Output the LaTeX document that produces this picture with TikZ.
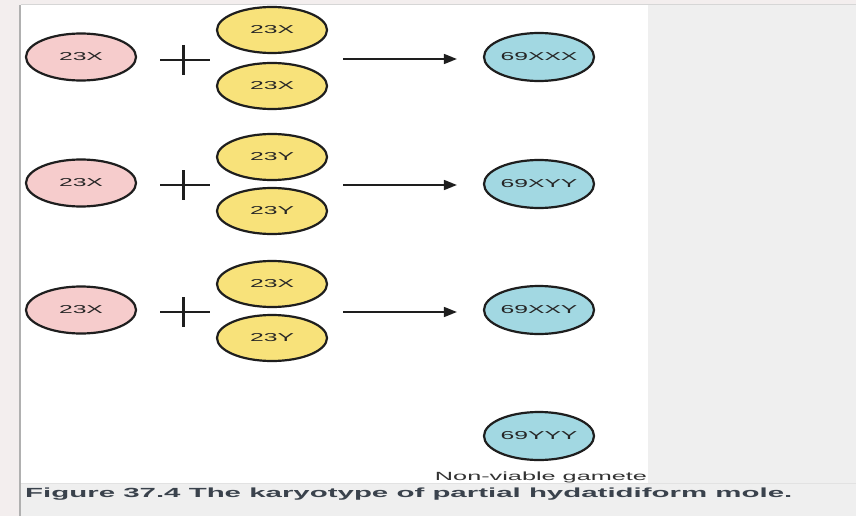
\documentclass[tikz,border=0pt]{standalone}
\usepackage{fontspec}
\setmainfont{Liberation Sans}
\usetikzlibrary{shapes.geometric,arrows.meta}
\definecolor{pinkc}{RGB}{246,204,204}
\definecolor{yelc}{RGB}{248,226,122}
\definecolor{bluec}{RGB}{162,216,226}
\definecolor{edgec}{RGB}{30,30,30}
\definecolor{panel}{RGB}{239,239,239}
\definecolor{capc}{RGB}{58,66,76}
\definecolor{marg}{RGB}{243,238,238}
\definecolor{sep}{RGB}{226,226,226}
\definecolor{topl}{RGB}{214,214,214}
\definecolor{leftl}{RGB}{176,176,176}
\tikzset{
  cell/.style={ellipse, draw=edgec, line width=2.2pt, minimum width=110pt, minimum height=47pt, inner sep=0pt, text=black!85},
  mother/.style={cell, fill=pinkc},
  father/.style={cell, fill=yelc, minimum height=46pt},
  zyg/.style={cell, fill=bluec, minimum height=48pt},
  arr/.style={line width=1.6pt, draw=edgec, -{Triangle[length=13pt,width=10pt]}},
  plusline/.style={draw=edgec, line width=1.6pt},
}
\newcommand{\lbl}[1]{\scalebox{2.15}[1]{\fontsize{11.5}{12}\selectfont #1}}
\begin{document}
\begin{tikzpicture}[x=1pt,y=-1pt]
\useasboundingbox (0,0) rectangle (856,516);
% backgrounds
\fill[marg] (0,0) rectangle (856,516);
\fill[white] (21,5) rectangle (648,483);
\fill[panel] (648,5) rectangle (856,516);
\fill[panel] (21,483) rectangle (856,516);
\draw[sep, line width=0.8pt] (21,483) -- (856,483);
\draw[topl, line width=1pt] (21,4.5) -- (856,4.5);
\draw[leftl, line width=2pt] (20,5) -- (20,516);
% row 1
\node[mother] (m1) at (81,57) {\lbl{23X}};
\node[father] (f1a) at (272,30) {\lbl{23X}};
\node[father] (f1b) at (272,86) {\lbl{23X}};
\node[zyg] (z1) at (539,57) {\lbl{69XXX}};
% row 2
\node[mother] (m2) at (81,183) {\lbl{23X}};
\node[father] (f2a) at (272,157) {\lbl{23Y}};
\node[father] (f2b) at (272,211) {\lbl{23Y}};
\node[zyg] (z2) at (539,184) {\lbl{69XYY}};
% row 3
\node[mother] (m3) at (81,310) {\lbl{23X}};
\node[father] (f3a) at (272,284) {\lbl{23X}};
\node[father] (f3b) at (272,338) {\lbl{23Y}};
\node[zyg] (z3) at (539,310) {\lbl{69XXY}};
% row 4
\node[zyg] (z4) at (539,436) {\lbl{69YYY}};
\node[text=black!80, inner sep=0pt] (nv) at (541,477) {\resizebox{212pt}{8.6pt}{Non-viable gamete}};
% plus signs
\foreach \y in {60,185,312}{
  \draw[plusline] (160,\y) -- (210,\y);
  \draw[draw=edgec, line width=3pt] (183,\y-15) -- (183,\y+15);
}
% arrows
\coordinate (s1) at (343,59);
\coordinate (s2) at (343,185);
\coordinate (s3) at (343,312);
\draw[arr, shorten >=26pt] (s1) -- (s1 -| z1.west);
\draw[arr, shorten >=26pt] (s2) -- (s2 -| z2.west);
\draw[arr, shorten >=26pt] (s3) -- (s3 -| z3.west);
% caption
\node[anchor=west, inner sep=0pt, text=capc] (cap) at (25,494) {\resizebox{767pt}{9.6pt}{\bfseries Figure 37.4 The karyotype of partial hydatidiform mole.}};
\end{tikzpicture}
\end{document}
